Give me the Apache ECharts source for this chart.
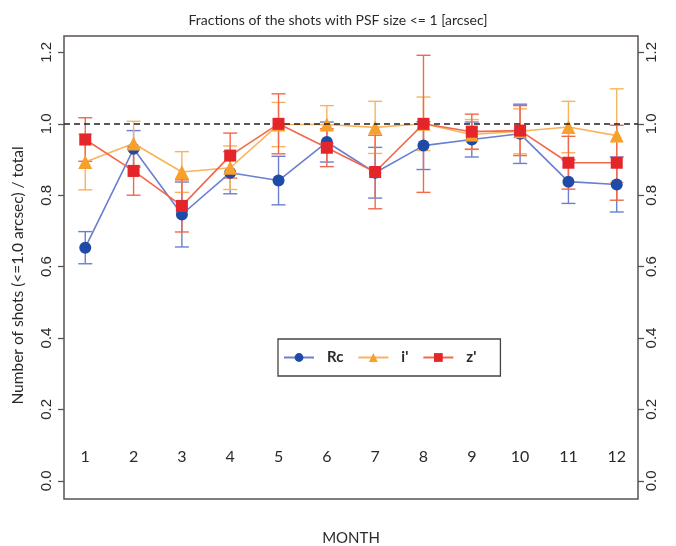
<!DOCTYPE html>
<html>
<head>
<meta charset="utf-8">
<script src="https://cdn.jsdelivr.net/npm/echarts@6/dist/echarts.min.js"></script>
<style>
  html, body { margin: 0; padding: 0; background: #fff; }
  #chart { width: 676px; height: 546px; }
</style>
</head>
<body>
<div id="chart"></div>
<script>
var months = [1, 2, 3, 4, 5, 6, 7, 8, 9, 10, 11, 12]
var yTicks = [0, 0.2, 0.4, 0.6, 0.8, 1.0, 1.2]

// fraction per month and half length of the error bar
var rc = [0.653, 0.930, 0.746, 0.863, 0.841, 0.949, 0.863, 0.939, 0.956, 0.972, 0.838, 0.830]
var rcErr = [0.045, 0.051, 0.091, 0.059, 0.068, 0.056, 0.071, 0.067, 0.049, 0.083, 0.061, 0.077]
var iBand = [0.893, 0.945, 0.865, 0.877, 0.998, 0.998, 0.990, 1.000, 0.970, 0.979, 0.991, 0.967]
var iErr = [0.078, 0.062, 0.057, 0.061, 0.062, 0.053, 0.073, 0.075, 0.042, 0.063, 0.072, 0.131]
var zBand = [0.956, 0.868, 0.770, 0.911, 1.000, 0.933, 0.865, 1.000, 0.978, 0.981, 0.891, 0.891]
var zErr = [0.061, 0.068, 0.073, 0.063, 0.084, 0.053, 0.103, 0.192, 0.049, 0.070, 0.074, 0.105]

var boxColor = '#5a5250'
var txtColor = '#2a2a2a'

function errorBars(name, values, errs, color) {
  return {
    type: 'custom',
    name: name,
    silent: true,
    z: 1,
    data: months.map(function(m, i) {
      return [m, values[i] - errs[i], values[i] + errs[i]]
    }),
    renderItem: function(params, api) {
      var lo = api.coord([api.value(0), api.value(1)])
      var hi = api.coord([api.value(0), api.value(2)])
      var hw = 7
      var st = { stroke: color, lineWidth: 1.4 }
      return {
        type: 'group',
        children: [
          { type: 'line', shape: { x1: lo[0], y1: lo[1], x2: hi[0], y2: hi[1] }, style: st },
          { type: 'line', shape: { x1: lo[0] - hw, y1: lo[1], x2: lo[0] + hw, y2: lo[1] }, style: st },
          { type: 'line', shape: { x1: hi[0] - hw, y1: hi[1], x2: hi[0] + hw, y2: hi[1] }, style: st }
        ]
      }
    }
  }
}

function lineSeries(name, values, symbol, size, lineColor, markColor, z) {
  return {
    type: 'line',
    name: name,
    data: months.map(function(m, i) { return [m, values[i]] }),
    symbol: symbol,
    symbolSize: size,
    showAllSymbol: true,
    z: z,
    lineStyle: { color: lineColor, width: 1.6 },
    itemStyle: { color: markColor, opacity: 1 },
    emphasis: { disabled: true }
  }
}

var blueLine = '#6a7fcf', blueMark = '#1f4aa6'
var orangeLine = '#f9b35c', orangeMark = '#f7a12c'
var redLine = '#f2684c', redMark = '#e4252a'

var rcLine = lineSeries('Rc', rc, 'circle', 12, blueLine, blueMark, 3)
rcLine.markLine = {
  silent: true,
  symbol: ['none', 'none'],
  label: { show: false },
  lineStyle: { color: '#222', type: [6, 4], width: 1.5 },
  data: [{ yAxis: 1.0 }]
}

function yAxisCfg(pos, margin) {
  return {
    type: 'value',
    position: pos,
    min: -0.051,
    max: 1.246,
    axisLine: { show: false },
    splitLine: { show: false },
    axisTick: { show: true, length: 6, customValues: yTicks, lineStyle: { color: boxColor, width: 1.3 } },
    axisLabel: {
      customValues: yTicks,
      rotate: 90,
      margin: margin,
      color: txtColor,
      fontFamily: 'Liberation Sans',
      fontSize: 15,
      formatter: function(v) { return v.toFixed(1) }
    }
  }
}

var chart = echarts.init(document.getElementById('chart'))
chart.setOption({
  animation: false,
  backgroundColor: '#fff',
  title: {
    text: 'Fractions of the shots with PSF size <= 1 [arcsec]',
    left: 'center',
    top: 8,
    textStyle: { fontFamily: 'Lato', fontSize: 14, fontWeight: 'normal', color: txtColor }
  },
  grid: {
    left: 64, right: 38, top: 36, bottom: 47,
    outerBoundsMode: 'none',
    containLabel: false,
    show: true, borderColor: boxColor, borderWidth: 1.5, backgroundColor: 'transparent'
  },
  legend: {
    data: ['Rc', "i'", "z'"],
    left: 278,
    top: 339,
    orient: 'horizontal',
    itemWidth: 30,
    itemHeight: 11,
    itemGap: 14,
    padding: [11, 24, 11, 5],
    borderColor: '#444',
    borderWidth: 1.3,
    selectedMode: false,
    textStyle: { fontFamily: 'Lato', fontSize: 15, fontWeight: 'bold', color: txtColor, padding: [0, 0, 0, 8] }
  },
  xAxis: {
    type: 'value',
    min: 0.56,
    max: 12.44,
    name: 'MONTH',
    nameLocation: 'middle',
    nameGap: 32,
    nameTextStyle: { fontFamily: 'Lato', fontSize: 15, color: txtColor },
    axisLine: { show: false },
    axisTick: { show: false },
    splitLine: { show: false },
    axisLabel: {
      customValues: months,
      inside: true,
      margin: 34,
      color: txtColor,
      fontFamily: 'Lato',
      fontSize: 16
    }
  },
  yAxis: [
    Object.assign(yAxisCfg('left', 10), {
      name: 'Number of shots (<=1.0 arcsec) / total',
      nameLocation: 'middle',
      nameGap: 38,
      nameRotate: 90,
      nameTextStyle: { fontFamily: 'Lato', fontSize: 15.5, color: txtColor, padding: [0, 16, 0, 0] }
    }),
    yAxisCfg('right', 6)
  ],
  series: [
    errorBars('Rc err', rc, rcErr, blueLine),
    errorBars('i err', iBand, iErr, orangeLine),
    errorBars('z err', zBand, zErr, redLine),
    rcLine,
    lineSeries("i'", iBand, 'triangle', 14, orangeLine, orangeMark, 4),
    lineSeries("z'", zBand, 'rect', 12, redLine, redMark, 5)
  ]
})
</script>
</body>
</html>
